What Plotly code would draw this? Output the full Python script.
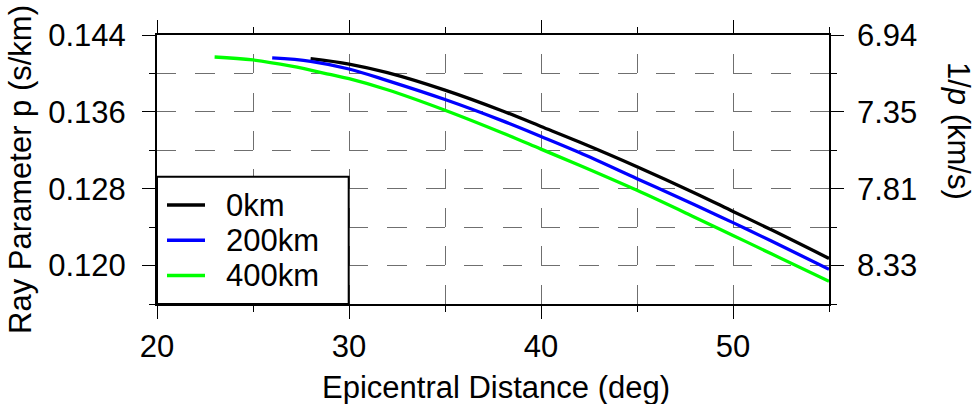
import plotly.graph_objects as go

# ---------------- data ----------------
series_names = ["0km", "200km", "400km"]
series_colors = ["#000000", "#0000ff", "#00ff00"]

dist_0km = [28, 30, 32, 35, 38, 40, 42, 45, 48, 50, 52, 55]
p_0km = [0.14154, 0.14098, 0.14008, 0.13826, 0.13609, 0.13448, 0.13286,
         0.13029, 0.12756, 0.12564, 0.12372, 0.12074]

dist_200km = [26, 28, 30, 32, 35, 38, 40, 42, 45, 48, 50, 52, 55]
p_200km = [0.14161, 0.14126, 0.14046, 0.13925, 0.13728, 0.13506, 0.13344,
           0.13177, 0.12905, 0.12632, 0.12447, 0.12255, 0.11962]

dist_400km = [23, 25, 27, 29, 30, 32, 35, 38, 40, 42, 45, 48, 50, 52, 55]
p_400km = [0.14171, 0.14140, 0.14075, 0.13990, 0.13945, 0.13830, 0.13617,
           0.13380, 0.13212, 0.13044, 0.12783, 0.12504, 0.12314, 0.12122,
           0.11836]

x_range = [20, 55]
y_range = [0.116, 0.144]
x_major_ticks = [20, 30, 40, 50]
x_minor_ticks = [25, 35, 45, 55]
y_major_ticks = [0.120, 0.128, 0.136, 0.144]
y_minor_ticks = [0.116, 0.124, 0.132, 0.140]
y_left_labels = ["0.120", "0.128", "0.136", "0.144"]
y_right_labels = ["8.33", "7.81", "7.35", "6.94"]   # 1/p

x_title = "Epicentral Distance (deg)"
y_title = "Ray Parameter p (s/km)"
y2_title = "1/<i>p</i> (km/s)"

# ---------------- layout geometry ----------------
W, H = 976, 404
L, R, T, B = 157, 147, 35, 100
PW, PH = W - L - R, H - T - B
FONT = "Liberation Sans, Arial, Helvetica, sans-serif"
FS = 31


def px2paper(px, py):
    return (px - L) / PW, (H - B - py) / PH


fig = go.Figure()
series = [(dist_0km, p_0km), (dist_200km, p_200km), (dist_400km, p_400km)]
for (xs, ys), name, col in zip(series, series_names, series_colors):
    fig.add_trace(go.Scatter(x=xs, y=ys, mode="lines", name=name,
                             line=dict(color=col, width=3.3, shape="spline",
                                       smoothing=1.0),
                             showlegend=False))

# invisible trace to activate the right axis
fig.add_trace(go.Scatter(x=[x_range[0]], y=[y_range[0]], yaxis="y2",
                         mode="markers", marker=dict(opacity=0),
                         showlegend=False, hoverinfo="skip"))

grid_col = "#6f6f6f"
vdash = "0px,19.2px,19.2px,0px"
hdash = "19.2px,19.2px"
fig.update_layout(
    width=W, height=H,
    margin=dict(l=L, r=R, t=T, b=B, autoexpand=False),
    paper_bgcolor="white", plot_bgcolor="white",
    font=dict(family=FONT, size=FS, color="black"),
    xaxis=dict(range=x_range, tickvals=x_major_ticks, ticks="outside",
               ticklen=13, tickwidth=1, tickcolor="black",
               showline=True, linewidth=2, linecolor="black", mirror="ticks",
               showgrid=True, gridcolor=grid_col, gridwidth=1,
               griddash=vdash, zeroline=False, ticklabelstandoff=1,
               tickfont=dict(size=FS),
               minor=dict(tickvals=x_minor_ticks, ticks="outside", ticklen=6,
                          tickwidth=1, tickcolor="black", showgrid=True,
                          gridcolor=grid_col, gridwidth=1, griddash=vdash)),
    yaxis=dict(range=y_range, tickvals=y_major_ticks, ticktext=y_left_labels,
               ticks="outside", ticklen=13, tickwidth=1, tickcolor="black",
               showline=True, linewidth=2, linecolor="black", mirror="ticks",
               showgrid=True, gridcolor=grid_col, gridwidth=1,
               griddash=hdash, zeroline=False,
               ticklabelstandoff=10, tickfont=dict(size=FS),
               minor=dict(tickvals=y_minor_ticks, ticks="outside", ticklen=6,
                          tickwidth=1, tickcolor="black", showgrid=True,
                          gridcolor=grid_col, gridwidth=1, griddash=hdash)),
    yaxis2=dict(range=y_range, overlaying="y", side="right",
                tickvals=y_major_ticks, ticktext=y_right_labels,
                ticks="", showline=False, showgrid=False, zeroline=False,
                ticklabelstandoff=27, tickfont=dict(size=FS)),
)

# axis titles
ax, ay = px2paper(496, 387)
fig.add_annotation(text=x_title, xref="paper", yref="paper", x=ax, y=ay,
                   xanchor="center", yanchor="middle", showarrow=False,
                   font=dict(size=FS))
ax, ay = px2paper(20, 170)
fig.add_annotation(text=y_title, xref="paper", yref="paper", x=ax, y=ay,
                   xanchor="center", yanchor="middle", showarrow=False,
                   textangle=-90, font=dict(size=FS))
ax, ay = px2paper(959, 131)
fig.add_annotation(text=y2_title, xref="paper", yref="paper", x=ax, y=ay,
                   xanchor="center", yanchor="middle", showarrow=False,
                   textangle=90, font=dict(size=FS))

# legend box (drawn like the GMT legend)
bx0, by0 = px2paper(157, 304)
bx1, by1 = px2paper(348.7, 176.7)
fig.add_shape(type="rect", xref="paper", yref="paper", x0=bx0, y0=by0,
              x1=bx1, y1=by1, line=dict(color="black", width=2),
              fillcolor="white", layer="above")
for i, (name, col) in enumerate(zip(series_names, series_colors)):
    py = 205 + i * 35.3
    lx0, ly = px2paper(167, py)
    lx1, _ = px2paper(205, py)
    tx, _ = px2paper(224, py)
    fig.add_shape(type="line", xref="paper", yref="paper", x0=lx0, x1=lx1,
                  y0=ly, y1=ly, line=dict(color=col, width=3.5),
                  layer="above")
    fig.add_annotation(text=name, xref="paper", yref="paper", x=tx, y=ly,
                       xanchor="left", yanchor="middle", showarrow=False,
                       font=dict(size=FS))

fig.write_html("out.html", config={"displayModeBar": False},
               post_script="document.body.style.margin='0px';"
                           "document.body.style.overflow='hidden';")
